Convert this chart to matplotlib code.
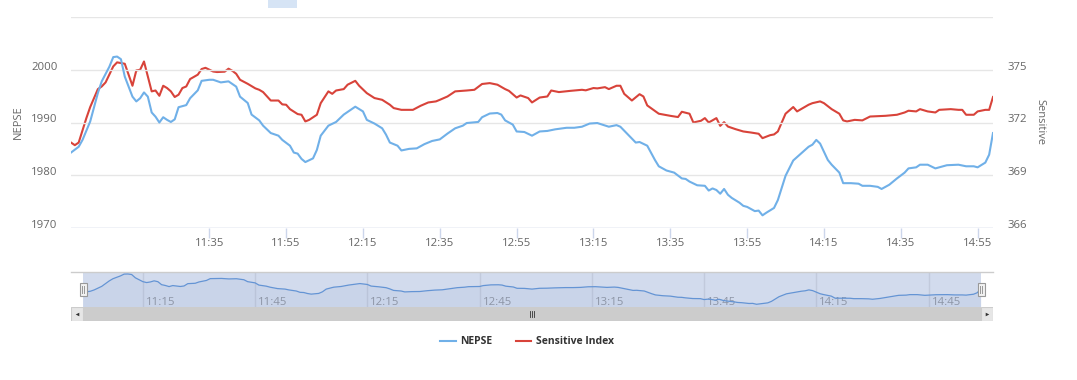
import matplotlib
matplotlib.use("Agg")
import matplotlib.pyplot as plt
import matplotlib.dates as mdates
from matplotlib.patches import Rectangle
from matplotlib.lines import Line2D
from matplotlib.transforms import ScaledTranslation
import pandas as pd

plt.rcParams['font.family'] = ['Open Sans', 'DejaVu Sans']

DAY = "2020-01-01 "

nepse_times = [
    "10:59", "11:01", "11:02", "11:04", "11:06", "11:07", "11:09", "11:10", "11:11", "11:12",
    "11:13", "11:15", "11:16", "11:17", "11:18", "11:19", "11:20", "11:21", "11:22", "11:23",
    "11:24", "11:25", "11:26", "11:27", "11:29", "11:30", "11:32", "11:33", "11:35", "11:36",
    "11:38", "11:40", "11:42", "11:43", "11:45", "11:46", "11:48", "11:49", "11:51", "11:53",
    "11:54", "11:56", "11:57", "11:58", "11:59", "12:00", "12:02", "12:03", "12:04", "12:06",
    "12:08", "12:10", "12:12", "12:13", "12:15", "12:16", "12:18", "12:20", "12:21", "12:22",
    "12:24", "12:25", "12:27", "12:29", "12:31", "12:33", "12:35", "12:37", "12:39", "12:41",
    "12:42", "12:45", "12:46", "12:48", "12:50", "12:51", "12:52", "12:54", "12:55", "12:57",
    "12:59", "13:01", "13:03", "13:05", "13:08", "13:10", "13:12", "13:14", "13:16", "13:19",
    "13:21", "13:22", "13:24", "13:26", "13:27", "13:29", "13:31", "13:32", "13:34", "13:36",
    "13:38", "13:39", "13:40", "13:42", "13:44", "13:45", "13:46", "13:47", "13:48", "13:49",
    "13:50", "13:51", "13:53", "13:54", "13:55", "13:57", "13:58", "13:59", "14:00", "14:02",
    "14:03", "14:05", "14:07", "14:09", "14:11", "14:12", "14:13", "14:14", "14:16", "14:17",
    "14:19", "14:20", "14:22", "14:24", "14:25", "14:27", "14:29", "14:30", "14:32", "14:34",
    "14:36", "14:37", "14:39", "14:40", "14:42", "14:44", "14:46", "14:47", "14:50", "14:52",
    "14:54", "14:55", "14:57", "14:58", "14:59",
]
nepse_values = [
    1984.3, 1985.4, 1986.7, 1990.2, 1995.6, 1997.8, 2000.6, 2002.4, 2002.5, 2002.0,
    1998.7, 1994.9, 1994.0, 1994.6, 1995.7, 1994.9, 1991.9, 1991.1, 1990.0, 1991.0,
    1990.5, 1990.1, 1990.6, 1992.9, 1993.3, 1994.6, 1996.1, 1997.9, 1998.1, 1998.1,
    1997.6, 1997.8, 1996.8, 1994.9, 1993.7, 1991.5, 1990.4, 1989.4, 1988.0, 1987.5,
    1986.7, 1985.6, 1984.3, 1984.1, 1983.1, 1982.5, 1983.2, 1984.8, 1987.5, 1989.4,
    1990.1, 1991.5, 1992.5, 1993.0, 1992.1, 1990.5, 1989.8, 1988.9, 1987.7, 1986.2,
    1985.6, 1984.7, 1985.0, 1985.1, 1985.9, 1986.5, 1986.8, 1987.9, 1988.9, 1989.4,
    1989.9, 1990.1, 1991.0, 1991.7, 1991.8, 1991.5, 1990.4, 1989.6, 1988.3, 1988.2,
    1987.5, 1988.3, 1988.4, 1988.7, 1989.0, 1989.0, 1989.2, 1989.8, 1989.9, 1989.2,
    1989.5, 1989.2, 1987.7, 1986.2, 1986.3, 1985.6, 1982.9, 1981.7, 1980.9, 1980.5,
    1979.4, 1979.3, 1978.8, 1978.1, 1978.0, 1977.1, 1977.5, 1977.2, 1976.5, 1977.4,
    1976.3, 1975.7, 1974.8, 1974.2, 1974.0, 1973.2, 1973.3, 1972.4, 1972.9, 1973.8,
    1975.3, 1979.9, 1982.8, 1984.1, 1985.4, 1985.8, 1986.7, 1986.0, 1982.9, 1982.0,
    1980.5, 1978.5, 1978.5, 1978.4, 1978.0, 1978.0, 1977.8, 1977.4, 1978.2, 1979.4,
    1980.5, 1981.3, 1981.5, 1982.0, 1982.0, 1981.3, 1981.7, 1981.9, 1982.0, 1981.7,
    1981.7, 1981.5, 1982.4, 1983.9, 1988.0,
]

sensitive_times = [
    "10:59", "11:00", "11:01", "11:03", "11:04", "11:06", "11:07", "11:08", "11:10", "11:11",
    "11:13", "11:14", "11:15", "11:16", "11:17", "11:18", "11:19", "11:20", "11:21", "11:22",
    "11:23", "11:24", "11:25", "11:26", "11:27", "11:28", "11:29", "11:30", "11:32", "11:33",
    "11:34", "11:36", "11:37", "11:39", "11:40", "11:41", "11:42", "11:43", "11:45", "11:47",
    "11:48", "11:49", "11:51", "11:53", "11:54", "11:55", "11:56", "11:58", "11:59", "12:00",
    "12:01", "12:03", "12:04", "12:06", "12:07", "12:08", "12:10", "12:11", "12:13", "12:14",
    "12:16", "12:18", "12:20", "12:22", "12:23", "12:25", "12:28", "12:30", "12:32", "12:34",
    "12:35", "12:37", "12:39", "12:42", "12:44", "12:46", "12:48", "12:50", "12:52", "12:53",
    "12:55", "12:56", "12:58", "12:59", "13:01", "13:03", "13:04", "13:06", "13:09", "13:12",
    "13:13", "13:15", "13:16", "13:18", "13:19", "13:21", "13:22", "13:23", "13:25", "13:27",
    "13:28", "13:29", "13:32", "13:35", "13:37", "13:38", "13:40", "13:41", "13:43", "13:44",
    "13:45", "13:47", "13:48", "13:49", "13:50", "13:52", "13:54", "13:56", "13:58", "13:59",
    "14:01", "14:02", "14:03", "14:05", "14:07", "14:08", "14:11", "14:12", "14:14", "14:15",
    "14:17", "14:19", "14:20", "14:21", "14:23", "14:25", "14:27", "14:29", "14:31", "14:34",
    "14:36", "14:37", "14:39", "14:40", "14:42", "14:44", "14:45", "14:48", "14:50", "14:51",
    "14:52", "14:54", "14:55", "14:57", "14:58", "14:59",
]
sensitive_values = [
    370.86, 370.71, 370.86, 372.25, 372.88, 373.90, 374.05, 374.28, 375.19, 375.42,
    375.34, 374.72, 374.09, 374.96, 375.00, 375.47, 374.62, 373.77, 373.82, 373.52,
    374.09, 373.96, 373.77, 373.45, 373.58, 373.96, 374.05, 374.47, 374.72, 375.04,
    375.11, 374.90, 374.87, 374.89, 375.06, 374.94, 374.77, 374.43, 374.20, 373.94,
    373.86, 373.73, 373.25, 373.25, 373.03, 373.01, 372.76, 372.48, 372.44, 372.06,
    372.15, 372.44, 373.10, 373.77, 373.63, 373.82, 373.90, 374.15, 374.37, 374.09,
    373.67, 373.39, 373.29, 373.01, 372.82, 372.72, 372.72, 372.95, 373.14, 373.20,
    373.29, 373.48, 373.77, 373.82, 373.86, 374.19, 374.24, 374.15, 373.90, 373.80,
    373.42, 373.54, 373.39, 373.14, 373.42, 373.48, 373.82, 373.73, 373.80, 373.86,
    373.83, 373.96, 373.94, 374.01, 373.90, 374.09, 374.09, 373.63, 373.25, 373.61,
    373.48, 372.97, 372.50, 372.38, 372.31, 372.61, 372.50, 372.00, 372.10, 372.25,
    372.00, 372.25, 371.81, 372.02, 371.77, 371.62, 371.49, 371.43, 371.36, 371.11,
    371.28, 371.32, 371.49, 372.50, 372.88, 372.63, 373.01, 373.10, 373.20, 373.10,
    372.76, 372.50, 372.12, 372.06, 372.15, 372.12, 372.34, 372.36, 372.38, 372.44,
    372.57, 372.67, 372.63, 372.76, 372.63, 372.57, 372.72, 372.76, 372.72, 372.72,
    372.44, 372.44, 372.63, 372.72, 372.72, 373.45,
]

left_ticks = [1970, 1980, 1990, 2000]
right_ticks = [366, 369, 372, 375]
main_tick_labels = ["11:35", "11:55", "12:15", "12:35", "12:55", "13:15",
                    "13:35", "13:55", "14:15", "14:35", "14:55"]
nav_tick_labels = ["11:15", "11:45", "12:15", "12:45", "13:15", "13:45", "14:15", "14:45"]
series_names = ["NEPSE", "Sensitive Index"]
left_title = "NEPSE"
right_title = "Sensitive"

BLUE = "#70b0e8"
RED = "#d8433a"
W, H = 1077, 380


def to_dt(lst):
    return pd.to_datetime([DAY + t for t in lst])


def box(x0, y0, x1, y1):
    return [x0 / W, 1 - y1 / H, (x1 - x0) / W, (y1 - y0) / H]


nt = to_dt(nepse_times)
st = to_dt(sensitive_times)

fig = plt.figure(figsize=(W / 100, H / 100), dpi=100)
fig.patch.set_facecolor("white")

# ---------- main chart ----------
ax = fig.add_axes(box(71, 17, 993, 228))
ax2 = ax.twinx()
ax.set_zorder(ax2.get_zorder() + 1)
ax.patch.set_visible(False)

l1, = ax.plot(nt, nepse_values, color=BLUE, lw=1.5, solid_joinstyle="round", zorder=3)
l2, = ax2.plot(st, sensitive_values, color=RED, lw=1.5, solid_joinstyle="round", zorder=3)

t0 = mdates.date2num(nt[0])
t1 = mdates.date2num(nt[-1])
ax.set_xlim(t0, t1)
ax.set_ylim(1970, 2010)
ax2.set_ylim(366, 378)

ax.set_yticks(left_ticks + [2010])
ax.set_yticklabels([str(v) for v in left_ticks] + [""])
ax2.set_yticks(right_ticks + [378])
ax2.set_yticklabels([str(v) for v in right_ticks] + [""])
ax.grid(axis="y", color="#e6e6e6", lw=1)
ax.grid(axis="x", visible=False)

for a in (ax, ax2):
    for s in ("top", "right", "left", "bottom"):
        a.spines[s].set_visible(False)
ax.axhline(1970, color="#ccd6eb", lw=1, zorder=2)

ax.tick_params(axis="y", length=0, pad=9.5, labelsize=8.2, labelcolor="#666666")
ax2.tick_params(axis="y", length=0, pad=10.5, labelsize=8.2, labelcolor="#666666")
off = ScaledTranslation(0, 4 / 100, fig.dpi_scale_trans)
for lab in ax.get_yticklabels() + ax2.get_yticklabels():
    lab.set_transform(lab.get_transform() + off)

ax.set_xticks(to_dt(main_tick_labels))
ax.set_xticklabels(main_tick_labels)
ax.tick_params(axis="x", length=7, width=1, color="#ccd6eb", pad=0.5,
               labelsize=8.2, labelcolor="#666666")

fig.text(18 / W, 1 - 122 / H, left_title, rotation=90, ha="center", va="center",
         fontsize=8, color="#666666")
fig.text(1040 / W, 1 - 122 / H, right_title, rotation=270, ha="center", va="center",
         fontsize=8, color="#666666")

# ---------- navigator ----------
NAV_L, NAV_R, SEL_L, SEL_R = 71, 993, 83, 981
ppu = (SEL_R - SEL_L) / (t1 - t0)
nav_xlim = (t0 - (SEL_L - NAV_L) / ppu, t1 + (NAV_R - SEL_R) / ppu)

nav = fig.add_axes(box(NAV_L, 272, NAV_R, 307))
nav.set_xlim(*nav_xlim)
nav.set_ylim(min(nepse_values) - 2.7, max(nepse_values) + 2.0)
nav.axvspan(t0, t1, color="#d2dbed", lw=0, zorder=0)
nav_ticks = to_dt(nav_tick_labels)
lab_off = ScaledTranslation(3 / 100, 0, fig.dpi_scale_trans)
for tk, lab in zip(nav_ticks, nav_tick_labels):
    x = mdates.date2num(tk)
    nav.axvline(x, color="#c2cadc", lw=1, zorder=1)
    nav.text(x, 0.14, lab, transform=nav.get_xaxis_transform() + lab_off, ha="left",
             va="center", fontsize=8.2, color="#8d95a6", zorder=2)
nav.plot(nt, nepse_values, color="#6494d4", lw=0.9, zorder=3)
nav.fill_between(nt, nepse_values, nav.get_ylim()[0], color="#335cad", alpha=0.05, lw=0)
nav.set_xticks([])
nav.set_yticks([])
for s in ("right", "left", "bottom"):
    nav.spines[s].set_visible(False)
nav.spines["top"].set_color("#cccccc")
nav.spines["top"].set_linewidth(1)

# ---------- scrollbar ----------
sb = fig.add_axes(box(NAV_L, 307, NAV_R, 321))
sb.set_xlim(*nav_xlim)
sb.set_ylim(0, 1)
sb.set_facecolor("#f2f2f2")
sb.axvspan(t0, t1, color="#cccccc", lw=0)
sb.add_patch(Rectangle((nav_xlim[0], 0), t0 - nav_xlim[0], 1, facecolor="#e6e6e6",
                       edgecolor="#cccccc", lw=0.8))
sb.add_patch(Rectangle((t1, 0), nav_xlim[1] - t1, 1, facecolor="#e6e6e6",
                       edgecolor="#cccccc", lw=0.8))
sb.plot([(nav_xlim[0] + t0) / 2], [0.5], marker="<", color="#333333", ms=2.6, mew=0)
sb.plot([(nav_xlim[1] + t1) / 2], [0.5], marker=">", color="#333333", ms=2.6, mew=0)
mid = (t0 + t1) / 2
gap = 2 / ppu
for k in (-1, 0, 1):
    sb.plot([mid + k * gap] * 2, [0.3, 0.7], color="#333333", lw=0.6)
sb.set_xticks([])
sb.set_yticks([])
for s in sb.spines.values():
    s.set_visible(False)

# handles
for hx in (SEL_L, SEL_R):
    fig.patches.append(Rectangle(((hx - 3.5) / W, 1 - 296 / H), 7 / W, 13 / H,
                                 transform=fig.transFigure, facecolor="#f2f2f2",
                                 edgecolor="#999999", lw=0.8, zorder=10))
    for dx in (-1, 1):
        fig.lines.append(Line2D([(hx + dx) / W] * 2, [1 - 293 / H, 1 - 286 / H],
                                transform=fig.transFigure, color="#999999", lw=0.7,
                                zorder=11))

# top decoration (range-selector remnant)
fig.patches.append(Rectangle((268 / W, 1 - 8 / H), 29 / W, 8 / H,
                             transform=fig.transFigure, facecolor="#d6e4f5",
                             edgecolor="none"))

# ---------- legend ----------
fig.legend([l1, l2], series_names, loc="center", bbox_to_anchor=(527 / W, 1 - 342 / H),
           ncol=2, frameon=False, handlelength=1.5, handletextpad=0.45,
           columnspacing=2.2, prop={"weight": "bold", "size": 7.5},
           labelcolor="#333333")

fig.savefig("out.png", dpi=100, facecolor="white")
